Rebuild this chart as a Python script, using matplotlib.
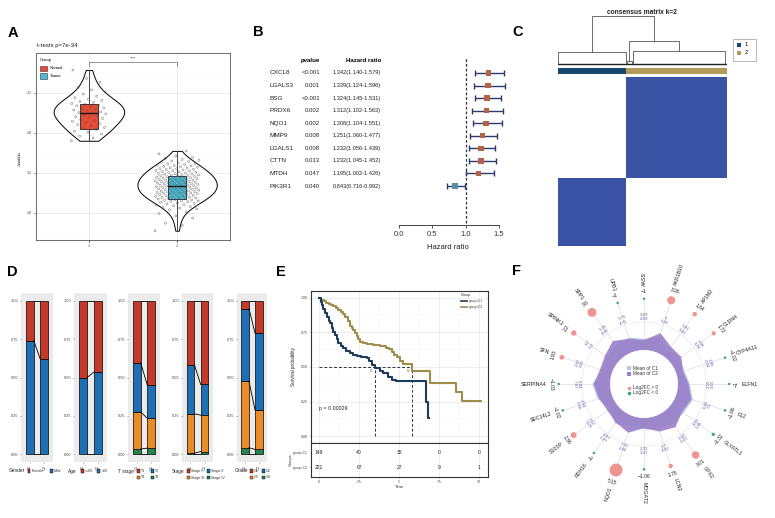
import numpy as np
import matplotlib
matplotlib.use("Agg")
import matplotlib.pyplot as plt
from matplotlib.transforms import blended_transform_factory
from matplotlib.patches import Rectangle
from matplotlib.colors import LinearSegmentedColormap, ListedColormap

# ---------------- DATA ----------------
# Panel A
a_groups = ["Normal", "Tumor"]
a_normal_vals = [1.902, 1.937, 1.958, 1.986, 2.008, 2.021, 2.044, 2.053, 2.068, 2.091,
                 2.104, 2.117, 2.132, 2.146, 2.153, 2.168, 2.181, 2.194, 2.203, 2.212,
                 2.226, 2.238, 2.247, 2.254, 2.263, 2.271, 2.286, 2.297, 2.305, 2.314,
                 2.327, 2.339, 2.346, 2.356, 2.368, 2.381, 2.393, 2.407, 2.422, 2.441,
                 2.458, 2.486, 2.512, 2.539, 2.571, 2.634, 2.682, 2.788]
a_tumor_vals = [0.776, 0.842, 0.871, 0.934, 0.962, 0.991,
                1.012, 1.037, 1.049, 1.058, 1.066, 1.079, 1.088, 1.097,
                1.103, 1.111, 1.118, 1.126, 1.133, 1.139, 1.144, 1.149,
                1.152, 1.157, 1.161, 1.166, 1.172, 1.178, 1.181, 1.186, 1.191, 1.195, 1.198,
                1.201, 1.205, 1.209, 1.213, 1.218, 1.222, 1.227, 1.231, 1.236, 1.240, 1.243, 1.247, 1.249,
                1.251, 1.254, 1.258, 1.262, 1.265, 1.269, 1.272, 1.276, 1.281, 1.284, 1.288, 1.291, 1.295, 1.298,
                1.301, 1.304, 1.307, 1.311, 1.314, 1.318, 1.321, 1.324, 1.328, 1.331, 1.335, 1.338, 1.342, 1.345, 1.349,
                1.352, 1.355, 1.358, 1.362, 1.365, 1.368, 1.372, 1.375, 1.379, 1.382, 1.386, 1.389, 1.393, 1.396, 1.399,
                1.402, 1.406, 1.409, 1.413, 1.416, 1.420, 1.424, 1.427, 1.431, 1.435, 1.438, 1.442, 1.445, 1.449,
                1.452, 1.456, 1.460, 1.463, 1.467, 1.471, 1.475, 1.479, 1.483, 1.487, 1.491, 1.495, 1.498,
                1.503, 1.508, 1.512, 1.517, 1.522, 1.527, 1.531, 1.536, 1.541, 1.545, 1.549,
                1.554, 1.559, 1.565, 1.571, 1.576, 1.582, 1.587, 1.592, 1.597,
                1.605, 1.612, 1.619, 1.627, 1.634, 1.641, 1.648,
                1.657, 1.668, 1.681, 1.693, 1.712, 1.738, 1.775]
a_box_q1 = [2.05, 1.175]
a_box_med = [2.255, 1.33]
a_box_q3 = [2.36, 1.455]
a_box_lo = [1.90, 0.78]
a_box_hi = [2.79, 1.775]

# Panel B
b_genes = ["CXCL8", "LGALS3", "BSG", "PRDX6", "NQO1", "MMP9", "LGALS1", "CTTN", "MTDH", "PIK3R1"]
b_pvalue = ["<0.001", "0.001", "<0.001", "0.002", "0.002", "0.008", "0.008", "0.013", "0.047", "0.040"]
b_hr = [1.342, 1.339, 1.324, 1.312, 1.308, 1.251, 1.232, 1.232, 1.195, 0.843]
b_lo = [1.140, 1.124, 1.145, 1.102, 1.104, 1.060, 1.056, 1.045, 1.002, 0.716]
b_hi = [1.579, 1.596, 1.531, 1.563, 1.551, 1.477, 1.439, 1.452, 1.426, 0.992]

# Panel C
c_cluster_sizes = [149, 221]
c_dendro_links = [  # (left x, right x, height, left child height, right child height)
    (0, 149, 0.25, 0.0, 0.0),
    (150, 162, 0.06, 0.0, 0.0),
    (164, 366, 0.27, 0.0, 0.0),
    (156, 265, 0.48, 0.06, 0.27),
    (74.5, 210.5, 1.0, 0.25, 0.48),
]

# Panel D
d_vars = ["Gender", "Age", "T stage", "Stage", "Grade"]
d_cats = [["Female", "Male"], ["<=60", ">60"], ["T1", "T2", "T3", "T4"],
          ["Stage I", "Stage II", "Stage III", "Stage IV"], ["G1", "G2", "G3", "G4"]]
d_c1 = [[0.26, 0.74], [0.50, 0.50], [0.405, 0.32, 0.24, 0.035],
        [0.416, 0.32, 0.257, 0.007], [0.052, 0.472, 0.433, 0.043]]
d_c2 = [[0.38, 0.62], [0.465, 0.535], [0.55, 0.215, 0.195, 0.04],
        [0.545, 0.20, 0.237, 0.018], [0.212, 0.50, 0.256, 0.032]]

# Panel E
e_c1_t = [0, 0.1, 0.17, 0.27, 0.37, 0.5, 0.6, 0.69, 0.8, 0.9, 1.0, 1.1, 1.2, 1.35, 1.52, 1.7,
          1.94, 2.15, 2.35, 2.6, 2.98, 3.15, 3.3, 3.5, 3.8, 4.02, 4.3, 4.54, 4.8, 6.69, 6.78, 6.85]
e_c1_s = [1.0, 0.97, 0.95, 0.92, 0.89, 0.86, 0.835, 0.817, 0.785, 0.756, 0.73, 0.70, 0.672, 0.652,
          0.635, 0.615, 0.60, 0.59, 0.58, 0.572, 0.567, 0.545, 0.515, 0.49, 0.47, 0.454, 0.43,
          0.406, 0.40, 0.249, 0.128, 0.128]
e_c2_t = [0, 0.15, 0.3, 0.45, 0.6, 0.75, 0.9, 1.05, 1.2, 1.35, 1.52, 1.65, 1.8, 1.93, 2.05, 2.15,
          2.24, 2.35, 2.45, 2.56, 2.75, 2.98, 3.4, 3.8, 4.0, 4.19, 4.35, 4.54, 4.7, 4.85, 5.06,
          5.27, 5.83, 6.94, 8.56, 8.96, 10.1]
e_c2_s = [1.0, 0.985, 0.975, 0.965, 0.955, 0.948, 0.94, 0.925, 0.91, 0.895, 0.88, 0.86, 0.835,
          0.80, 0.78, 0.765, 0.745, 0.725, 0.705, 0.683, 0.672, 0.664, 0.66, 0.655, 0.65, 0.64,
          0.628, 0.61, 0.59, 0.57, 0.54, 0.524, 0.47, 0.386, 0.316, 0.256, 0.256]
e_risk_times = [0, 2.5, 5, 7.5, 10]
e_risk_c1 = [149, 40, 15, 0, 0]
e_risk_c2 = [221, 67, 27, 9, 1]
e_pvalue = "p = 0.00029"

# Panel F
f_genes = ["AASS", "AKR1B10", "AP1M2", "CLDN4", "CYP4A11", "ELFN1", "F12", "GLYATL1", "GPX2", "LCN2",
           "MOGAT2", "NQO1", "RDH16", "S100P", "SEC14L2", "SERPINA4", "SFN", "SPINK1", "SPP1", "UPB1"]
f_log2fc = [-1, 3.26, 1.84, 1.72, -1.02, -1, -1.06, -1.32, 3.01, 1.78,
            -1.06, 5.15, -1, 2.36, -1.02, -1.03, 1.93, 2.2, 3.6, -1]
f_mean_c1 = [3.09, 6, 1.81, 2.06, 1.06, 3.55, 7.5, 5.85, 6.21, 4.92,
             3.37, 2.44, 5.97, 0.76, 5.56, 7.87, 2.02, 3.2, 5.35, 5.75]
f_mean_c2 = [2.09, 9.26, 3.65, 3.78, 0.04, 2.55, 6.44, 4.53, 9.22, 6.7,
             2.31, 7.59, 4.97, 3.12, 4.54, 6.84, 3.95, 5.4, 8.95, 4.75]

# ---------------- STYLE ----------------
W, H = 775, 518
plt.rcParams['font.family'] = ['Liberation Sans', 'DejaVu Sans']
SERIF = ['Liberation Serif', 'DejaVu Serif']
fig = plt.figure(figsize=(W / 100, H / 100), dpi=100)


def add_ax(x0, y0, x1, y1, **kw):
    return fig.add_axes([x0 / W, 1 - y1 / H, (x1 - x0) / W, (y1 - y0) / H], **kw)


def ftext(x, y, s, **kw):
    kw.setdefault('va', 'center')
    return fig.text(x / W, 1 - y / H, s, **kw)


def frect(x, y, w, h, **kw):
    r = Rectangle((x / W, 1 - (y + h) / H), w / W, h / H, transform=fig.transFigure, **kw)
    fig.add_artist(r)
    return r


for lab, x, y in [("A", 8, 33), ("B", 253, 32), ("C", 512, 32), ("D", 7, 272), ("E", 276, 272), ("F", 512, 271)]:
    ftext(x, y, lab, fontsize=10.5, fontweight='bold')

# ---------------- PANEL A ----------------
RED_A, BLUE_A = "#E64B35", "#4DBBD5"
axA = add_ax(36, 53, 230, 240)
axA.set_xlim(0.4, 2.6)
axA.set_ylim(0.66, 3.0)
axA.set_yticks([1.0, 1.5, 2.0, 2.5])
axA.set_yticks([0.75, 1.25, 1.75, 2.25, 2.75], minor=True)
axA.set_xticks([1, 2])
axA.set_xticklabels(a_groups)
axA.grid(True, which='major', color='#E6E6E6', lw=0.5)
axA.grid(True, which='minor', axis='y', color='#F2F2F2', lw=0.3)
axA.set_axisbelow(True)
axA.tick_params(labelsize=3, length=1.5, width=0.4, pad=1.5, colors='#333333')
axA.tick_params(which='minor', length=0)
for lbl in axA.get_xticklabels() + axA.get_yticklabels():
    lbl.set_family(SERIF)
for s in axA.spines.values():
    s.set_color('#555555'); s.set_linewidth(0.6)
vp = axA.violinplot([a_normal_vals, a_tumor_vals], positions=[1, 2], widths=[0.8, 0.9],
                    showextrema=False, bw_method=0.45)
for b in vp['bodies']:
    b.set_facecolor('white'); b.set_edgecolor('black'); b.set_alpha(1); b.set_linewidth(0.7)
    b.set_zorder(1)
stats = []
for i in range(2):
    stats.append(dict(med=a_box_med[i], q1=a_box_q1[i], q3=a_box_q3[i],
                      whislo=a_box_lo[i], whishi=a_box_hi[i], fliers=[]))
bp = axA.bxp(stats, positions=[1, 2], widths=0.2, patch_artist=True, showfliers=False,
             showcaps=False, zorder=2,
             boxprops=dict(edgecolor='#222222', linewidth=0.6),
             medianprops=dict(color='#111111', linewidth=1.0),
             whiskerprops=dict(color='#444444', linewidth=0.7))
for patch, col in zip(bp['boxes'], [RED_A, BLUE_A]):
    patch.set_facecolor(col)
for pos, vals, jw in ((1, a_normal_vals, 0.2), (2, a_tumor_vals, 0.25)):
    n = len(vals)
    off = ((np.arange(n) * 0.618034) % 1 - 0.5) * 2 * jw
    axA.scatter(pos + off, vals, s=2.2, facecolors='none', edgecolors='#4a4a4a',
                linewidths=0.35, alpha=0.75, zorder=3)
axA.plot([1, 1, 2, 2], [2.84, 2.89, 2.89, 2.84], color='#666666', lw=0.5)
axA.text(1.5, 2.925, "****", fontsize=3, ha='center', va='center', color='#333333')
ftext(37, 46, "t-tests p=7e-34", fontsize=4.3, color='#222222')
ftext(20, 158, "Anoikis", fontsize=3.4, rotation=90, ha='center', family=SERIF)
ftext(40, 59.5, "Group", fontsize=3.4, family=SERIF)
frect(39.5, 65.5, 7, 5.5, facecolor=RED_A, edgecolor='#333333', lw=0.4)
frect(39.5, 73.5, 7, 5.5, facecolor=BLUE_A, edgecolor='#333333', lw=0.4)
ftext(50, 68.3, "Normal", fontsize=3.2, family=SERIF)
ftext(50, 76.3, "Tumor", fontsize=3.2, family=SERIF)

# ---------------- PANEL B ----------------
axB = add_ax(390, 55, 510, 225)
axB.set_xlim(-0.138, 1.668)
axB.set_ylim(12.1, -1.43)
rows = np.arange(len(b_genes))
hr = np.array(b_hr); lo = np.array(b_lo); hi = np.array(b_hi)
axB.axvline(1, ls=(0, (2.2, 1.6)), color='#333333', lw=0.9, ymin=0.01, ymax=0.99)
axB.errorbar(hr, rows, xerr=[hr - lo, hi - hr], fmt='none', ecolor='#2B3A6B',
             elinewidth=1.0, capsize=2.2, capthick=1.0, zorder=2)
cols_b = ['#B5624B' if v > 1 else '#5B8DA3' for v in b_hr]
axB.scatter(hr, rows, marker='s', s=15, c=cols_b, zorder=3, linewidths=0)
for k in ['top', 'right', 'left']:
    axB.spines[k].set_visible(False)
axB.spines['bottom'].set_bounds(0, 1.5)
axB.spines['bottom'].set_color('#444444')
axB.spines['bottom'].set_linewidth(0.7)
axB.set_yticks([])
axB.set_xticks([0, 0.5, 1.0, 1.5])
axB.set_xticklabels(["0.0", "0.5", "1.0", "1.5"])
axB.tick_params(axis='x', labelsize=5.5, length=2.5, width=0.6, colors='#333333', pad=2)
axB.patch.set_alpha(0)
ftext(448, 248, "Hazard ratio", fontsize=5.5, ha='center', color='#222222')
trB = blended_transform_factory(fig.transFigure, axB.transData)
axB.text(320 / W, -1, "pvalue", transform=trB, fontsize=4.4, fontweight='bold', ha='right', va='center')
axB.text(381 / W, -1, "Hazard ratio", transform=trB, fontsize=4.4, fontweight='bold', ha='right', va='center')
for i, g in enumerate(b_genes):
    axB.text(270 / W, i, g, transform=trB, fontsize=4.6, ha='left', va='center', color='#222222')
    axB.text(320 / W, i, b_pvalue[i], transform=trB, fontsize=4.3, ha='right', va='center', color='#222222')
    axB.text(381 / W, i, f"{b_hr[i]:.3f}({b_lo[i]:.3f}-{b_hi[i]:.3f})", transform=trB,
             fontsize=4.1, ha='right', va='center', color='#222222')

# ---------------- PANEL C ----------------
NAVY, TAN = "#17476E", "#B39A5B"
N = sum(c_cluster_sizes)
labels = np.repeat([1, 2], c_cluster_sizes)
M = (labels[::-1][:, None] == labels[None, :]).astype(float)
axC = add_ax(558, 77, 727, 246)
axC.imshow(M, cmap=LinearSegmentedColormap.from_list('cm', ['white', '#3A53A5']),
           aspect='auto', interpolation='nearest', vmin=0, vmax=1)
axC.axis('off')
axCb = add_ax(558, 68, 727, 74)
axCb.imshow(labels[None, :], cmap=ListedColormap([NAVY, TAN]), aspect='auto', interpolation='nearest')
axCb.axis('off')
axCd = add_ax(558, 14, 727, 66)
axCd.set_xlim(0, N)
axCd.set_ylim(-0.042, 1.042)
for xl, xr, h, hl, hrr in c_dendro_links:
    axCd.plot([xl, xl, xr, xr], [hl, h, h, hrr], color='#555555', lw=0.6)
axCd.plot([0, N], [0, 0], color='#222222', lw=1.0)
axCd.axis('off')
ftext(642, 13, "consensus matrix k=2", fontsize=4.8, fontweight='bold', ha='center', color='#222222')
frect(733, 39, 23, 22, facecolor='white', edgecolor='#999999', lw=0.5)
frect(737, 43, 4, 4, facecolor=NAVY, edgecolor='none')
frect(737, 50.5, 4, 4, facecolor=TAN, edgecolor='none')
ftext(745, 45, "1", fontsize=4.2)
ftext(745, 52.5, "2", fontsize=4.2)

# ---------------- PANEL D ----------------
D_COLS = ["#C43A2A", "#1F6FB4", "#E88C2A", "#23874B"]
d_panel_x = [(21, 53), (74, 107), (128, 160), (182, 213), (237, 267)]
d_leg_title_x = [9, 68, 118, 172, 235]
d_leg_key_x = [(29, 51), (82, 99), (138, 152), (188, 208), (251, 263)]
bw = 0.55
for i, var in enumerate(d_vars):
    x0, x1 = d_panel_x[i]
    ax = add_ax(x0, 293, x1, 462)
    ax.set_facecolor('#EBEBEB')
    ax.set_xlim(0.4, 2.6)
    ax.set_ylim(-0.05, 1.05)
    cats = d_cats[i]
    ncat = len(cats)
    cums = []
    for j, fr in enumerate([d_c1[i], d_c2[i]]):
        bottom = 0.0
        cum = [0.0]
        for k in range(ncat - 1, -1, -1):
            ax.bar(j + 1, fr[k], width=bw, bottom=bottom, color=D_COLS[k], edgecolor='black', lw=0.5, zorder=2)
            bottom += fr[k]
            cum.append(bottom)
        cums.append(cum)
    for a, b in zip(cums[0], cums[1]):
        ax.plot([1 + bw / 2, 2 - bw / 2], [a, b], color='black', lw=0.6, zorder=3)
    for s in ax.spines.values():
        s.set_visible(False)
    ax.set_yticks([0, 0.25, 0.5, 0.75, 1.0])
    ax.set_yticklabels(["0.00", "0.25", "0.50", "0.75", "1.00"])
    ax.set_xticks([1, 2])
    ax.set_xticklabels(["C1", "C2"], rotation=90)
    ax.tick_params(labelsize=2.8, length=1, width=0.4, pad=1, colors='#444444')
    # legend
    ftext(d_leg_title_x[i], 471, var, fontsize=3.4, color='#222222')
    for k, c in enumerate(cats):
        rr, cc = divmod(k, 2)
        kx = d_leg_key_x[i][cc]
        ky = 471 + 6.5 * rr
        frect(kx - 1.5, ky - 1.6, 3, 3.2, facecolor=D_COLS[k], edgecolor='black', lw=0.3)
        ftext(kx + 3, ky, c, fontsize=2.6, color='#333333')

# ---------------- PANEL E ----------------
KM1, KM2 = "#1D3A5F", "#A08C4C"
axE = add_ax(311, 291, 488, 443)
axE.set_xlim(-0.5, 10.56)
axE.set_ylim(-0.05, 1.05)
axE.set_xticks([0, 2.5, 5, 7.5, 10])
axE.set_xticks([1.25, 3.75, 6.25, 8.75], minor=True)
axE.set_yticks([0, 0.25, 0.5, 0.75, 1.0])
axE.set_yticks([0.125, 0.375, 0.625, 0.875], minor=True)
axE.set_yticklabels(["0.00", "0.25", "0.50", "0.75", "1.00"])
axE.set_xticklabels([])
axE.grid(True, which='major', color='#E3E3E3', lw=0.4)
axE.grid(True, which='minor', color='#F0F0F0', lw=0.3)
axE.set_axisbelow(True)
axE.tick_params(labelsize=2.5, length=1, width=0.4, pad=1, colors='#444444')
axE.tick_params(which='minor', length=0)
for s in axE.spines.values():
    s.set_color('#333333'); s.set_linewidth(0.8)
axE.step(e_c2_t, e_c2_s, where='post', color=KM2, lw=1.5, zorder=3)
axE.step(e_c1_t, e_c1_s, where='post', color=KM1, lw=1.5, zorder=3)
meds = []
for tt, ss in ((e_c1_t, e_c1_s), (e_c2_t, e_c2_s)):
    idx = next(k for k, v in enumerate(ss) if v <= 0.5)
    meds.append(tt[idx])
axE.plot([0, max(meds)], [0.5, 0.5], ls=(0, (3, 2)), color='#333333', lw=0.7, zorder=2)
for m in meds:
    axE.plot([m, m], [0, 0.5], ls=(0, (3, 2)), color='#333333', lw=0.7, zorder=2)
    axE.text(m - 0.1, 0.47, f"{m:.1f}", fontsize=1.8, ha='right', va='center', color='#555555')
axE.text(0, 0.2, e_pvalue, fontsize=3.8, va='center', ha='left', color='#222222')
ftext(461, 295, "Group", fontsize=2.5, color='#222222')
for k, (lab, col) in enumerate([("group=C1", KM1), ("group=C2", KM2)]):
    yy = 301 + 6 * k
    fig.add_artist(plt.Line2D([461 / W, 467 / W], [1 - yy / H, 1 - yy / H], color=col, lw=1.2,
                              transform=fig.transFigure))
    ftext(469, yy, lab, fontsize=2.3, color='#333333')
ftext(293, 367, "Survival probability", fontsize=3.3, rotation=90, ha='center', color='#222222')

axT = add_ax(311, 443, 488, 477)
axT.set_xlim(-0.5, 10.56)
axT.set_ylim(0.29, 2.71)
axT.set_xticks(e_risk_times)
axT.set_xticklabels(["0", "2.5", "5", "7.5", "10"])
axT.set_yticks([2, 1])
axT.set_yticklabels(["group=C1", "group=C2"])
axT.grid(True, axis='x', color='#E3E3E3', lw=0.4)
axT.set_axisbelow(True)
axT.tick_params(labelsize=2.4, length=1, width=0.4, pad=1, colors='#444444')
for s in axT.spines.values():
    s.set_color('#333333'); s.set_linewidth(0.8)
for t, n1, n2 in zip(e_risk_times, e_risk_c1, e_risk_c2):
    axT.text(t, 2, str(n1), fontsize=3.6, ha='center', va='center', color='#222222')
    axT.text(t, 1, str(n2), fontsize=3.6, ha='center', va='center', color='#222222')
ftext(399.5, 486.5, "Time", fontsize=3, ha='center', color='#222222')
ftext(290.5, 460, "Groups", fontsize=2.8, rotation=90, ha='center', color='#222222')

# ---------------- PANEL F ----------------
cx, cy, R = 644, 384, 128
axF = add_ax(cx - R, cy - R, cx + R, cy + R, projection='polar')
axF.set_theta_zero_location('N')
axF.set_theta_direction(-1)
axF.set_ylim(0, R)
axF.axis('off')
ng = len(f_genes)
theta = np.deg2rad(np.arange(ng) * 360.0 / ng)
degs = np.arange(ng) * 360.0 / ng
r_c1 = 41 + 1.35 * np.array(f_mean_c1)
r_c2 = 41 + 1.35 * np.array(f_mean_c2)
circ = np.linspace(0, 2 * np.pi, 300)
axF.plot(circ, np.full(300, 62), color='#EDEDED', lw=0.6, zorder=0)
fc = np.array(f_log2fc)
dsz = 2.5 * np.abs(fc)
r_dot = 84 + dsz / 2
for k in range(ng):
    axF.plot([theta[k], theta[k]], [36, r_dot[k] - dsz[k] / 2], color='#E2DADC', lw=0.5, zorder=0.5)
tc = np.append(theta, theta[0])
axF.fill(tc, np.append(r_c1, r_c1[0]), color='#B3C6E7', zorder=1, lw=0)
axF.fill(tc, np.append(r_c2, r_c2[0]), color='#9B80C9', alpha=0.9, zorder=2, lw=0)
axF.fill(circ, np.full(300, 34), color='white', zorder=3, lw=0)
POS, NEG = '#EF9591', '#35A88C'
axF.scatter(theta, r_dot, s=(1.8 * np.abs(fc)) ** 2, c=[POS if v > 0 else NEG for v in fc],
            zorder=4, linewidths=0)


def fmt(v):
    return f"{v:g}".replace('-', '\u2212')


for k in range(ng):
    d = degs[k]
    if 90 <= d <= 270:
        rot_t = 180 - d
        mtxt = f"{fmt(f_mean_c2[k])}\n{fmt(f_mean_c1[k])}"
    else:
        rot_t = -d
        mtxt = f"{fmt(f_mean_c1[k])}\n{fmt(f_mean_c2[k])}"
    axF.text(theta[k], 67, mtxt, rotation=rot_t, rotation_mode='anchor', ha='center', va='center',
             fontsize=3.2, color='#6A5BAA', linespacing=1.1, zorder=5)
    r_fc = r_dot[k] + dsz[k] / 2 + 6
    axF.text(theta[k], r_fc, fmt(f_log2fc[k]), rotation=rot_t, rotation_mode='anchor',
             ha='center', va='center', fontsize=3.6, color='#222222', zorder=5)
    if d <= 180:
        rot_n, ha = 90 - d, 'left'
    else:
        rot_n, ha = 270 - d, 'right'
    axF.text(theta[k], r_fc + 5, f_genes[k], rotation=rot_n, rotation_mode='anchor',
             ha=ha, va='center', fontsize=3.8, color='#222222', zorder=5)

frect(627, 366, 4, 4, facecolor='#B3C6E7', edgecolor='none')
frect(627, 371.5, 4, 4, facecolor='#9B80C9', edgecolor='none')
ftext(633, 368, "Mean of C1", fontsize=3.4, color='#333333')
ftext(633, 373.5, "Mean of C2", fontsize=3.4, color='#333333')
fig.add_artist(plt.Line2D([629 / W], [1 - 387.5 / H], marker='o', ms=1.6, color=POS, lw=0,
                          transform=fig.transFigure))
fig.add_artist(plt.Line2D([629 / W], [1 - 392.5 / H], marker='o', ms=1.6, color=NEG, lw=0,
                          transform=fig.transFigure))
ftext(633, 387.5, "Log2FC > 0", fontsize=3.4, color='#333333')
ftext(633, 392.5, "Log2FC < 0", fontsize=3.4, color='#333333')

fig.savefig('out.png', dpi=100)
